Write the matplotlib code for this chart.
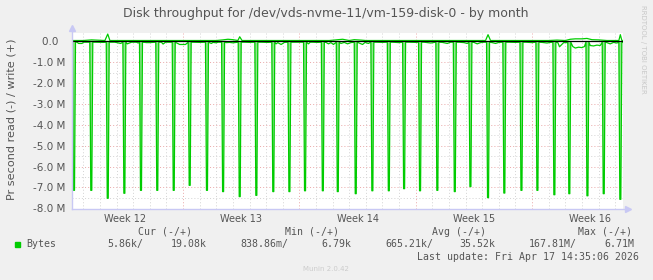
import matplotlib
matplotlib.use("Agg")
import matplotlib.pyplot as plt
import numpy as np
from matplotlib.patches import Rectangle

plt.rcParams['lines.scale_dashes'] = False

# ---------------- data ----------------
title = "Disk throughput for /dev/vds-nvme-11/vm-159-disk-0 - by month"
ylabel = "Pr second read (-) / write (+)"
week_labels = ["Week 12", "Week 13", "Week 14", "Week 15", "Week 16"]
week_centers = [3.5, 10.5, 17.5, 24.5, 31.5]      # days since Mon of week 12
week_bounds = [7, 14, 21, 28]
ytick_vals = [-8, -7, -6, -5, -4, -3, -2, -1, 0]
ytick_labels = ["-8.0 M", "-7.0 M", "-6.0 M", "-5.0 M", "-4.0 M", "-3.0 M",
                "-2.0 M", "-1.0 M", "0.0  "]

# daily read bursts (days, MB/s negative)
spike_days = [0.44, 1.48, 2.47, 3.47, 4.47, 5.45, 6.44, 7.40, 8.44, 9.41,
              10.41, 11.41, 12.43, 13.40, 14.34, 15.41, 16.31, 17.39, 18.39,
              19.38, 20.30, 21.26, 22.30, 23.35, 24.29, 25.35, 26.33, 27.36,
              28.32, 29.34, 30.24, 31.33, 32.31, 33.31]
spike_depths = [-7.14, -7.14, -7.52, -7.28, -7.14, -7.14, -7.14, -6.90, -7.14,
                -7.20, -7.44, -7.38, -7.20, -7.20, -7.16, -7.16, -7.20, -7.30,
                -7.16, -7.16, -7.06, -7.16, -7.14, -7.20, -6.96, -7.49, -7.27,
                -7.14, -7.14, -7.35, -7.30, -7.40, -7.30, -7.57]

read_days = [0.32, 0.62, 0.72, 0.92, 1.02, 1.7, 2.2, 2.9, 3.25, 3.65, 3.9, 4.2,
             4.3, 4.6, 4.8, 5.0, 5.7, 5.8, 5.95, 6.2, 6.8, 6.9, 7.15, 7.6, 8.0,
             8.7, 8.8, 9.0, 9.1, 9.6, 9.8, 10.0, 10.7, 11.0, 11.7, 12.1, 12.6,
             12.7, 12.9, 13.1, 13.6, 14.0, 14.55, 14.65, 14.8, 15.1, 15.6,
             15.75, 15.9, 16.05, 16.5, 16.7, 16.9, 17.1, 17.6, 17.8, 17.95,
             18.15, 18.6, 19.0, 19.6, 20.0, 20.6, 21.0, 21.5, 21.9, 22.6, 22.9,
             23.1, 23.6, 23.9, 24.1, 24.5, 24.7, 24.9, 25.1, 25.6, 25.8, 26.0,
             26.6, 27.0, 27.6, 28.0, 28.6, 28.9, 29.1, 29.55, 29.65, 29.9,
             30.1, 30.45, 30.6, 30.8, 31.0, 31.15, 31.5, 31.7, 31.9, 32.1,
             32.5, 32.7, 32.9, 33.1, 33.47]
read_vals = [-0.04, -0.04, -0.10, -0.10, -0.04, -0.04, -0.05, -0.04, -0.10,
             -0.12, -0.04, -0.04, -0.08, -0.04, -0.06, -0.06, -0.04, -0.13,
             -0.04, -0.04, -0.15, -0.15, -0.15, -0.04, -0.05, -0.10, -0.05,
             -0.07, -0.04, -0.06, -0.05, -0.07, -0.04, -0.05, -0.04, -0.05,
             -0.12, -0.06, -0.15, -0.05, -0.04, -0.04, -0.12, -0.04, -0.04,
             -0.05, -0.05, -0.12, -0.06, -0.15, -0.10, -0.05, -0.12, -0.06,
             -0.08, -0.15, -0.05, -0.10, -0.04, -0.05, -0.04, -0.06, -0.04,
             -0.05, -0.04, -0.08, -0.05, -0.10, -0.04, -0.04, -0.06, -0.10,
             -0.05, -0.12, -0.06, -0.04, -0.06, -0.10, -0.05, -0.04, -0.05,
             -0.04, -0.06, -0.05, -0.08, -0.05, -0.06, -0.26, -0.06, -0.06,
             -0.25, -0.32, -0.28, -0.30, -0.25, -0.20, -0.22, -0.18, -0.20,
             -0.06, -0.12, -0.05, -0.08, -0.05]

write_days = [0.32, 1.0, 1.5, 2.3, 2.47, 2.6, 3.0, 3.5, 4.4, 5.5, 6.5, 7.5, 8.2,
              9.0, 9.4, 9.7, 10.0, 10.3, 10.41, 10.55, 11.0, 12.0, 13.0, 14.0,
              15.0, 15.8, 16.2, 16.6, 17.0, 17.3, 17.7, 18.0, 18.5, 19.5, 20.5,
              21.5, 22.5, 23.5, 24.0, 24.5, 25.2, 25.35, 25.5, 26.0, 27.0,
              28.0, 29.0, 29.5, 30.0, 30.3, 30.6, 31.0, 31.3, 31.6, 32.0, 32.5,
              33.0, 33.22, 33.31, 33.4, 33.47]
write_vals = [0.04, 0.04, 0.07, 0.04, 0.35, 0.04, 0.04, 0.04, 0.04, 0.04, 0.04,
              0.04, 0.04, 0.04, 0.07, 0.10, 0.08, 0.04, 0.22, 0.04, 0.04, 0.04,
              0.04, 0.04, 0.04, 0.04, 0.07, 0.10, 0.04, 0.08, 0.06, 0.04, 0.04,
              0.04, 0.04, 0.04, 0.04, 0.04, 0.04, 0.04, 0.04, 0.32, 0.04, 0.04,
              0.04, 0.04, 0.04, 0.06, 0.04, 0.10, 0.12, 0.12, 0.14, 0.08, 0.07,
              0.04, 0.04, 0.04, 0.32, 0.04, 0.04]

legend_headers = ["Cur (-/+)", "Min (-/+)", "Avg (-/+)", "Max (-/+)"]
legend_name = "Bytes"
legend_values = ["5.86k/", "19.08k", "838.86m/", "6.79k",
                 "665.21k/", "35.52k", "167.81M/", "6.71M"]
last_update = "Last update: Fri Apr 17 14:35:06 2026"
footer = "Munin 2.0.42"
watermark = "RRDTOOL / TOBI OETIKER"

# ---------------- build read series ----------------
pts = []
sd = np.array(spike_days)
for d, v in zip(read_days, read_vals):
    if np.min(np.abs(sd - d)) > 0.12:
        pts.append((d, v))
OUT, IN = 0.09, 0.03
for d, v in zip(spike_days, spike_depths):
    pts += [(d - OUT, -0.04), (d - IN, v), (d + IN, v), (d + OUT, -0.04)]
pts.sort()
rt = np.array([p[0] for p in pts])
rv = np.array([p[1] for p in pts])

# ---------------- figure ----------------
W, H = 653, 280
BG = '#f0f0f0'
TXT = '#555555'
fig = plt.figure(figsize=(W / 100, H / 100), dpi=100, facecolor=BG)
ax = fig.add_axes([72 / W, 1 - 208.5 / H, (623 - 72) / W, (208.5 - 33) / H])
ax.set_facecolor('white')
ax.set_xlim(0.32, 33.47)
ax.set_ylim(-8.01, 0.40)

dot = (0, (0.75, 1.5))
for d in range(1, 34):
    if d in week_bounds:
        continue
    ax.axvline(d, color='#cfcfcf', lw=0.6, ls=dot, zorder=1)
for d in week_bounds:
    ax.axvline(d, color='#e8a0a0', lw=0.6, ls=dot, zorder=1)
for y in np.arange(-7.5, 0.4, 1.0):
    ax.axhline(y, color='#cfcfcf', lw=0.6, ls=dot, zorder=1)
for y in ytick_vals[1:]:
    ax.axhline(y, color='#e8a0a0', lw=0.6, ls=dot, zorder=1)

green = '#00cc00'
light = '#8fe68f'
for d, v in zip(spike_days, spike_depths):
    ax.fill([d - OUT, d - IN, d + IN, d + OUT], [-0.04, v, v, -0.04],
            color=light, lw=0, zorder=2)
ax.plot(rt, rv, color=green, lw=0.9, zorder=3)
ax.plot(write_days, write_vals, color=green, lw=0.9, zorder=3)
ax.axhline(0, color='black', lw=0.9, zorder=4)

for s in ax.spines.values():
    s.set_visible(False)
axc = '#c8c8f4'
ax.plot([0, 0], [0, 1.025], transform=ax.transAxes, color=axc, lw=1, clip_on=False, zorder=5)
ax.plot([0], [1.03], marker='^', ms=4, color=axc, transform=ax.transAxes, clip_on=False, zorder=5)
ax.plot([0, 1.0085], [0, 0], transform=ax.transAxes, color=axc, lw=1, clip_on=False, zorder=5)
ax.plot([1.0085], [0], marker='>', ms=4, color=axc, transform=ax.transAxes, clip_on=False, zorder=5)

ax.set_yticks(ytick_vals)
ax.set_yticklabels(ytick_labels)
ax.set_xticks(week_centers)
ax.set_xticklabels(week_labels)
ax.tick_params(axis='both', length=0, labelcolor=TXT)
ax.tick_params(axis='y', pad=5, labelsize=7.5)
ax.tick_params(axis='x', pad=4, labelsize=7)

fig.text(12 / W, 1 - 119 / H, ylabel, rotation=90, ha='center', va='center',
         fontsize=8.1, color=TXT)
fig.text(326 / W, 1 - 14 / H, title, ha='center', va='center', fontsize=9, color=TXT)
fig.text(643 / W, 1 - 5 / H, watermark, rotation=270, ha='center', va='top',
         fontsize=5, color='#c8c8c8')

mono = 'DejaVu Sans Mono'
hx = [137.5, 284.6, 432, 578]
for x, s in zip(hx, legend_headers):
    fig.text(x / W, 1 - 232 / H, s, ha='left', va='center', fontsize=7.1, family=mono, color=TXT)
fig.patches.append(Rectangle((14.5 / W, 1 - 247 / H), 5.5 / W, 5.5 / H,
                             transform=fig.transFigure, color=green, figure=fig))
fig.text(26 / W, 1 - 244 / H, legend_name, ha='left', va='center', fontsize=7.1, family=mono, color=TXT)
vx = [107.5, 170.8, 240.8, 321.7, 385.4, 459, 529, 604]
for x, s in zip(vx, legend_values):
    fig.text(x / W, 1 - 244 / H, s, ha='left', va='center', fontsize=7.1, family=mono, color=TXT)
fig.text(639 / W, 1 - 256.5 / H, last_update, ha='right', va='center', fontsize=7.1, family=mono, color=TXT)
fig.text(326 / W, 1 - 269 / H, footer, ha='center', va='center', fontsize=5, color='#cccccc')

fig.savefig('out.png', dpi=100, facecolor=BG)
